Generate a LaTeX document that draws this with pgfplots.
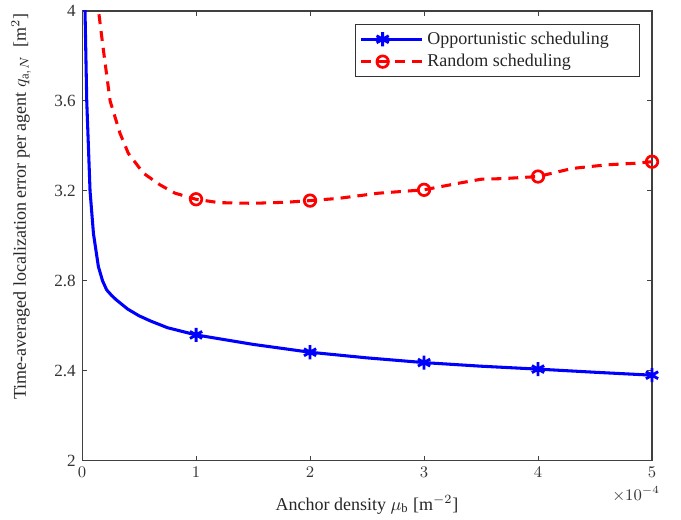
\documentclass[border=0pt]{standalone}
\usepackage{fontspec}
\setmainfont{Liberation Serif}
\usepackage{pgfplots}
\pgfplotsset{compat=1.18}
\usetikzlibrary{calc}
\begin{document}
\begin{tikzpicture}
\begin{axis}[
  scale only axis,
  width=316.7pt, height=250pt,
  xmin=0, xmax=5, ymin=2, ymax=4,
  xtick={0,1,2,3,4,5},
  ytick={2,2.4,2.8,3.2,3.6,4},
  yticklabels={2,2.4,2.8,3.2,3.6,4},
  axis line style={black!75, line width=0.6pt},
  tick style={black!75, line width=0.6pt},
  major tick length=3pt,
  tick align=inside,
  ticklabel style={font=\fontsize{9.5}{11}\selectfont, text=black!80},
  xlabel={Anchor density $\mu_\mathrm{b}$ [m$^{-2}$]},
  ylabel={Time-averaged localization error per agent $q_{\mathrm{a},N}$\ \ [m$^2$]},
  xlabel style={at={(rel axis cs:0.5,0)}, anchor=center, yshift=-24.4pt, font=\fontsize{10}{12}\selectfont, text=black!85},
  ylabel style={at={(rel axis cs:0,0.566)}, anchor=center, yshift=33.9pt, font=\fontsize{10}{12}\selectfont, text=black!85},
  legend style={at={(rel axis cs:1,1)}, anchor=north east, xshift=-6.7pt, yshift=-7.2pt,
    draw=black!80, line width=0.6pt, font=\fontsize{10}{12}\selectfont, text=black!85,
    inner xsep=2pt, inner ysep=2pt, row sep=0pt, cells={anchor=west}},
  legend image code/.code={\draw[#1,mark indices={2}] plot coordinates {(0pt,0pt) (12pt,0pt) (24pt,0pt)};
    \path (0pt,0pt) -- (34pt,0pt);},
]
\addplot[blue, line width=1.7pt, mark=asterisk, mark size=3.9pt,
  mark options={solid, line width=1.6pt},
  mark indices={13,15,17,19,21}] coordinates {
(0.024,4.05) (0.041,3.6) (0.07,3.2) (0.1,3.01) (0.143,2.864) (0.18,2.80)
(0.216,2.76) (0.26,2.735) (0.3,2.716) (0.4,2.675) (0.5,2.645) (0.6,2.622) (0.75,2.592) (1,2.56)
(1.5,2.518) (2,2.483) (2.5,2.458) (3,2.437) (3.5,2.421) (4,2.408)
(4.5,2.394) (5,2.381)
};
\addlegendentry{Opportunistic scheduling\hspace*{13pt}}
\addplot[red, line width=1.7pt, dash pattern=on 5.5pt off 3.9pt, mark=o, mark size=3.2pt,
  mark options={solid, line width=1.5pt},
  mark indices={8,12,15,19,23}] coordinates {
(0.13,4.06) (0.187,3.827) (0.246,3.6) (0.333,3.456) (0.406,3.367) (0.538,3.279)
(0.684,3.227) (0.816,3.19) (1,3.163) (1.2,3.148) (1.5,3.145) (1.8,3.150)
(2,3.157) (2.25,3.167) (2.6,3.19) (3,3.205) (3.3,3.234) (3.5,3.252)
(3.7,3.255) (4,3.264) (4.3,3.30) (4.6,3.316) (4.85,3.323) (5,3.33)
};
\addlegendentry{Random scheduling}
\coordinate (bl) at (rel axis cs:0,0);
\coordinate (tr) at (rel axis cs:1,1);
\coordinate (br) at (rel axis cs:1,0);
\end{axis}
\node[anchor=center, font=\fontsize{9}{10}\selectfont, text=black!80] at ($(br)+(-8.9pt,-18.3pt)$) {$\times10^{-4}$};
\pgfresetboundingbox
\useasboundingbox ($(bl)+(-45.6pt,-32.8pt)$) rectangle ($(tr)+(16.1pt,6.1pt)$);
\end{tikzpicture}
\end{document}
